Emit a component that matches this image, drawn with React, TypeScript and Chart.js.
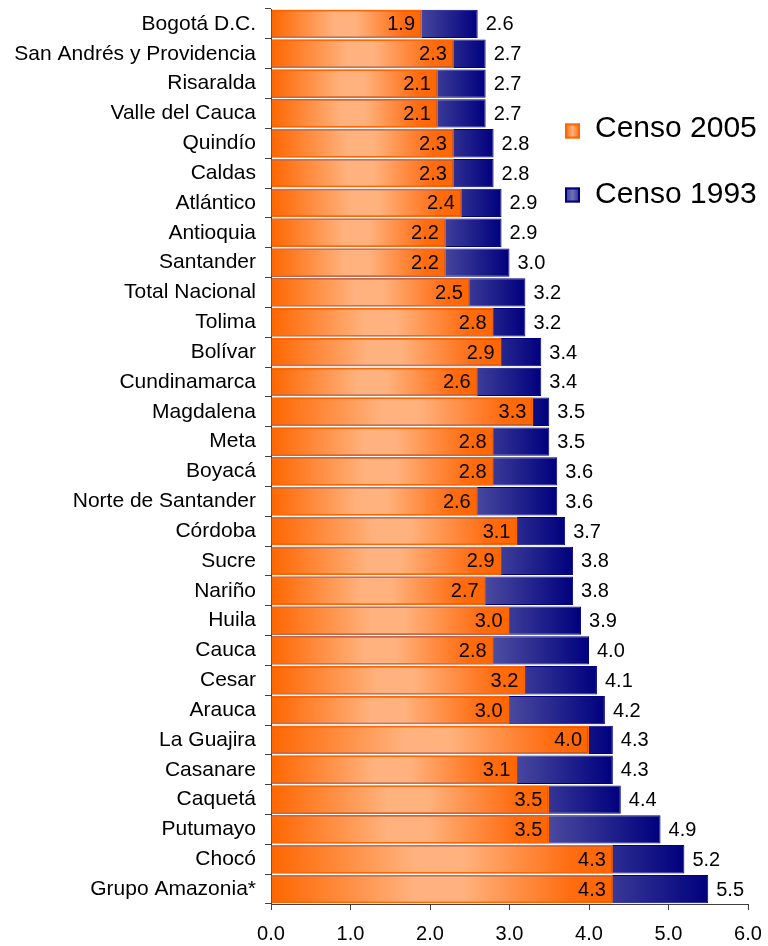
import React, { useEffect, useRef } from 'react';
import { Chart, registerables } from 'chart.js';
Chart.register(...registerables);

const categories = [
  'Bogotá D.C.', 'San Andrés y Providencia', 'Risaralda', 'Valle del Cauca', 'Quindío',
  'Caldas', 'Atlántico', 'Antioquia', 'Santander', 'Total Nacional', 'Tolima', 'Bolívar',
  'Cundinamarca', 'Magdalena', 'Meta', 'Boyacá', 'Norte de Santander', 'Córdoba', 'Sucre',
  'Nariño', 'Huila', 'Cauca', 'Cesar', 'Arauca', 'La Guajira', 'Casanare', 'Caquetá',
  'Putumayo', 'Chocó', 'Grupo Amazonia*',
];
const censo2005 = [
  1.9, 2.3, 2.1, 2.1, 2.3, 2.3, 2.4, 2.2, 2.2, 2.5, 2.8, 2.9, 2.6, 3.3, 2.8, 2.8, 2.6, 3.1, 2.9,
  2.7, 3.0, 2.8, 3.2, 3.0, 4.0, 3.1, 3.5, 3.5, 4.3, 4.3,
];
const censo1993 = [
  2.6, 2.7, 2.7, 2.7, 2.8, 2.8, 2.9, 2.9, 3.0, 3.2, 3.2, 3.4, 3.4, 3.5, 3.5, 3.6, 3.6, 3.7, 3.8,
  3.8, 3.9, 4.0, 4.1, 4.2, 4.3, 4.3, 4.4, 4.9, 5.2, 5.5,
];
const xMin = 0;
const xMax = 6;
const xStep = 1;
const legendLabels = ['Censo 2005', 'Censo 1993'];

const FONT = "'Liberation Sans', Arial, sans-serif";

function orangeGradient(ctx: any) {
  const chart = ctx.chart;
  if (!chart.chartArea || ctx.type !== 'data' || !chart.scales.x) return '#FF8C40';
  const xs = chart.scales.x;
  const x0 = xs.getPixelForValue(0);
  const x1 = xs.getPixelForValue(ctx.raw);
  if (!isFinite(x0) || !isFinite(x1) || x1 - x0 < 1) return '#FF8C40';
  const g = chart.ctx.createLinearGradient(x0, 0, x1, 0);
  g.addColorStop(0, '#FF6600');
  g.addColorStop(0.42, '#FFB27E');
  g.addColorStop(0.56, '#FFB27E');
  g.addColorStop(0.88, '#FF6C10');
  g.addColorStop(1, '#FF6600');
  return g;
}

function navyGradient(ctx: any) {
  const chart = ctx.chart;
  if (!chart.chartArea || ctx.type !== 'data' || !chart.scales.x) return '#2A2A90';
  const xs = chart.scales.x;
  const x0 = xs.getPixelForValue(0);
  const x1 = xs.getPixelForValue(ctx.raw);
  if (!isFinite(x0) || !isFinite(x1) || x1 - x0 < 1) return '#2A2A90';
  const g = chart.ctx.createLinearGradient(x0, 0, x1, 0);
  g.addColorStop(0, '#6060AC');
  g.addColorStop(0.68, '#5252A2');
  g.addColorStop(1, '#00007E');
  return g;
}

const valueLabels = {
  id: 'valueLabels',
  afterDatasetsDraw(chart: any) {
    const ctx = chart.ctx;
    ctx.save();
    ctx.font = `20px ${FONT}`;
    ctx.fillStyle = '#000';
    ctx.textBaseline = 'middle';
    const m2005 = chart.getDatasetMeta(0);
    const m1993 = chart.getDatasetMeta(1);
    m2005.data.forEach((el: any, i: number) => {
      ctx.textAlign = 'right';
      ctx.fillText(censo2005[i].toFixed(1), el.x - 7, el.y + 1);
    });
    m1993.data.forEach((el: any, i: number) => {
      ctx.textAlign = 'left';
      ctx.fillText(censo1993[i].toFixed(1), el.x + 8, el.y + 1);
    });
    ctx.restore();
  },
};

const customLegend = {
  id: 'customLegend',
  afterDraw(chart: any) {
    const ctx = chart.ctx;
    ctx.save();
    const items = [
      { y: 129, sy: 131, fill: ['#FF6600', '#FFB27E', '#FF6600'], stroke: '#FF6600' },
      { y: 195, sy: 195, fill: ['#3A3A98', '#7070B8', '#2A2A90'], stroke: '#000080' },
    ];
    items.forEach((it, i) => {
      const x = 565;
      const w = 15;
      const h = 15;
      const top = it.sy - h / 2;
      const g = ctx.createLinearGradient(x, 0, x + w, 0);
      g.addColorStop(0, it.fill[0]);
      g.addColorStop(0.5, it.fill[1]);
      g.addColorStop(1, it.fill[2]);
      ctx.fillStyle = g;
      ctx.fillRect(x, top, w, h);
      ctx.strokeStyle = it.stroke;
      ctx.lineWidth = 2;
      ctx.strokeRect(x + 1, top + 1, w - 2, h - 2);
      ctx.fillStyle = '#000';
      ctx.font = `30px ${FONT}`;
      ctx.textAlign = 'left';
      ctx.textBaseline = 'middle';
      ctx.fillText(legendLabels[i], 595, it.y);
    });
    ctx.restore();
  },
};

export default function App() {
  const ref = useRef<HTMLCanvasElement | null>(null);
  useEffect(() => {
    if (!ref.current) return;
    const chart = new Chart(ref.current, {
      type: 'bar',
      data: {
        labels: categories,
        datasets: [
          {
            label: legendLabels[0],
            data: censo2005,
            backgroundColor: orangeGradient,
            borderColor: '#FF6600',
            borderWidth: 1.5,
            grouped: false,
            categoryPercentage: 1,
            barPercentage: 0.95,
          } as any,
          {
            label: legendLabels[1],
            data: censo1993,
            backgroundColor: navyGradient,
            borderColor: '#000080',
            borderWidth: 1,
            grouped: false,
            categoryPercentage: 1,
            barPercentage: 0.95,
          } as any,
        ],
      },
      options: {
        indexAxis: 'y',
        responsive: false,
        animation: false,
        events: [],
        layout: { padding: { left: 10, right: 20, top: 9, bottom: 0 } },
        plugins: {
          legend: { display: false },
          tooltip: { enabled: false },
        },
        scales: {
          x: {
            min: xMin,
            max: xMax,
            afterFit: (s: any) => {
              s.height = 42;
              s.paddingLeft = 0;
              s.paddingRight = 0;
              s.paddingTop = 0;
              s.paddingBottom = 0;
            },
            ticks: {
              stepSize: xStep,
              color: '#000',
              padding: 12,
              font: { family: FONT, size: 20 },
              callback: (v: any) => Number(v).toFixed(1),
            },
            grid: { drawOnChartArea: false, drawTicks: true, tickLength: 6, color: '#404040' },
            border: { display: true, color: '#404040', width: 1 },
          },
          y: {
            afterFit: (s: any) => {
              s.width = 261;
              s.paddingLeft = 0;
              s.paddingRight = 0;
              s.paddingTop = 0;
              s.paddingBottom = 0;
            },
            ticks: {
              color: '#000',
              padding: 9,
              autoSkip: false,
              font: { family: FONT, size: 21 },
            },
            grid: { offset: true, drawOnChartArea: false, drawTicks: true, tickLength: 6, color: '#404040' },
            border: { display: true, color: '#404040', width: 1 },
          },
        },
      },
      plugins: [valueLabels, customLegend],
    } as any);
    return () => chart.destroy();
  }, []);
  return (
    <div style={{ position: 'absolute', left: 0, top: 0, width: 768, height: 946 }}>
      <canvas ref={ref} width={768} height={946} />
    </div>
  );
}
